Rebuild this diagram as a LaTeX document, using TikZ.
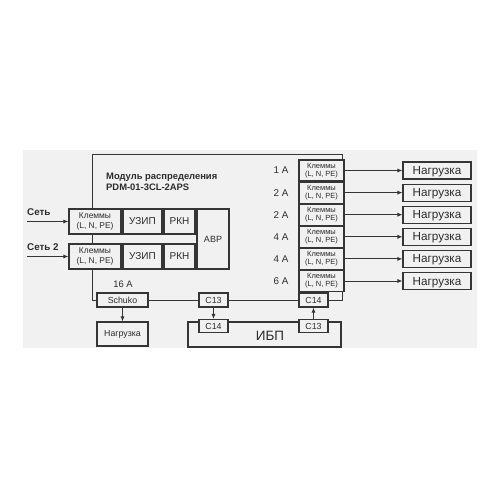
\documentclass[tikz,border=0pt]{standalone}
\usepackage{fontspec}
\setmainfont{Liberation Sans}
\usetikzlibrary{arrows.meta}
\definecolor{bg}{HTML}{F1F1F1}
\definecolor{ln}{HTML}{353535}
\definecolor{tx}{HTML}{2C2C2C}
\begin{document}
\begin{tikzpicture}[x=1pt,y=-1pt,
  box/.style={draw=ln, line width=1.1pt, fill=bg, inner sep=0pt, text=tx, align=center},
  klbox/.style={box, minimum width=52pt, minimum height=25pt, font=\fontsize{8.4}{9.6}\selectfont},
  smbox/.style={box, minimum height=25pt, font=\fontsize{10}{11}\selectfont},
  rkl/.style={box, minimum width=45pt, minimum height=21pt, font=\fontsize{7.5}{8.3}\selectfont},
  load/.style={box, minimum width=68pt, minimum height=17pt, text height=8.4pt, text depth=0.4pt, font=\fontsize{11.7}{12}\selectfont},
  cbox/.style={box, minimum width=29pt, minimum height=14pt, font=\fontsize{8.8}{9.5}\selectfont},
  lbl/.style={text=tx, inner sep=0pt},
  wire/.style={draw=ln, line width=0.95pt},
  arr/.style={wire, -{Latex[length=5pt,width=4.2pt]}}
]
\useasboundingbox (0,0) rectangle (500,500);
\fill[bg] (23,150) rectangle (477,348);

% module outline corners
\coordinate (mtl) at (92,154);
\coordinate (mtr) at (342,154);
\coordinate (mbr) at (342,300);

% bottom row nodes first (for outline path)
\node[cbox, minimum width=51pt] (schuko) at (122.5,300) {Schuko};
\node[cbox] (c13a) at (213.5,300) {C13};
\node[cbox] (c14a) at (313.5,300) {C14};

% outline of the module
\draw[wire] (schuko.west) -| (mtl) -- (mtr) -- (mbr) -- (c14a.east);
\draw[wire] (schuko.east) -- (c13a.west);
\draw[wire] (c13a.east) -- (c14a.west);

% title
\node[lbl, anchor=west, align=left, font=\bfseries\fontsize{9.4}{11}\selectfont] (title) at (106,181.5)
  {Модуль распределения\\PDM-01-3CL-2APS};

% inputs
\node[klbox] (kl1) at (95,221.5) {Клеммы\\(L, N, PE)};
\node[smbox, minimum width=39pt] (uz1) at (142.5,221.5) {УЗИП};
\node[smbox, minimum width=31pt] (rk1) at (179.5,221.5) {РКН};
\node[klbox] (kl2) at (95,256.5) {Клеммы\\(L, N, PE)};
\node[smbox, minimum width=39pt] (uz2) at (142.5,256.5) {УЗИП};
\node[smbox, minimum width=31pt] (rk2) at (179.5,256.5) {РКН};
\node[box, minimum width=32pt, minimum height=60pt, font=\fontsize{9}{10}\selectfont] (avr) at (213,239) {АВР};

\node[lbl, anchor=south west, font=\bfseries\fontsize{9.8}{10}\selectfont] (set1) at (27,216) {Сеть};
\node[lbl, anchor=south west, font=\bfseries\fontsize{9.8}{10}\selectfont] (set2) at (27,251) {Сеть 2};
\coordinate (in1) at (27,221.5);
\coordinate (in2) at (27,256.5);
\draw[arr] (in1) -- (kl1.west);
\draw[arr] (in2) -- (kl2.west);

% outputs
\foreach \i/\y/\a in {1/170.5/1 A, 2/192.6/2 A, 3/214.7/2 A, 4/236.8/4 A, 5/258.9/4 A, 6/281/6 A}{
  \node[rkl] (rk\i x) at (321.5,\y) {Клеммы\\(L, N, PE)};
  \node[lbl, font=\fontsize{9.8}{10}\selectfont] (amp\i) at (281,\y) {\a};
  \node[load] (ld\i) at (437,\y) {Нагрузка};
  \draw[arr] (rk\i x.east) -- (ld\i.west);
}
\draw[wire] (mbr) -- (rk6x.south -| mbr);

\node[lbl, font=\fontsize{9.4}{10}\selectfont] (a16) at (123,284) {16 A};

% bottom
\node[box, minimum width=51pt, minimum height=24pt, font=\fontsize{8.8}{9.5}\selectfont] (ldb) at (122.5,334) {Нагрузка};
\draw[arr] (schuko.south) -- (ldb.north);

\node[box, minimum width=153pt, minimum height=25pt] (ups) at (264.5,334.5) {};
\node[lbl, font=\fontsize{13.5}{14}\selectfont] (upst) at (270,335.5) {ИБП};
\node[cbox, minimum height=13pt] (c14b) at (213.5,326) {C14};
\node[cbox, minimum height=13pt] (c13b) at (313.5,326) {C13};
\draw[arr] (c13a.south) -- (c14b.north);
\draw[arr] (c13b.north) -- (c14a.south);
\end{tikzpicture}
\end{document}
